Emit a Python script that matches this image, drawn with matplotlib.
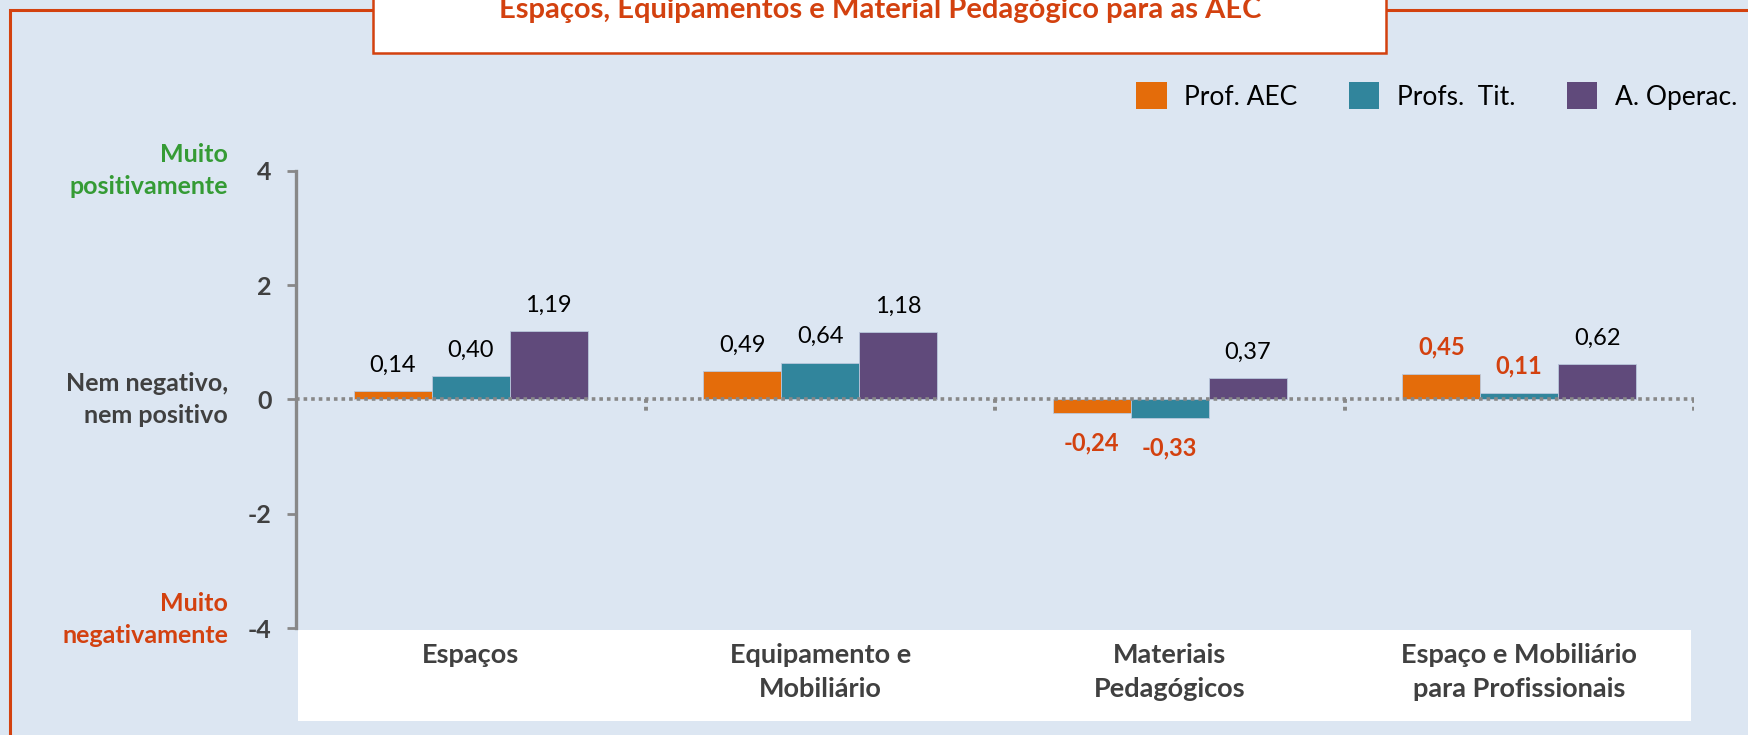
import numpy as np
import matplotlib.pyplot as plt
from matplotlib.patches import Rectangle, Patch

plt.rcParams['font.family'] = ['Lato', 'DejaVu Sans']

# dados
categorias = ["Espaços", "Equipamento e\nMobiliário", "Materiais\nPedagógicos",
              "Espaço e Mobiliário\npara Profissionais"]
series = ["Prof. AEC", "Profs.  Tit.", "A. Operac."]
prof_aec = [0.14, 0.49, -0.24, 0.45]
profs_tit = [0.40, 0.64, -0.33, 0.11]
a_operac = [1.19, 1.18, 0.37, 0.62]
# rótulos destacados a vermelho
destaque_aec = [False, False, True, True]
destaque_tit = [False, False, True, True]
destaque_op = [False, False, False, False]
yticks = [-4, -2, 0, 2, 4]
escala = [(4, "Muito\npositivamente"), (0, "Nem negativo,\nnem positivo"),
          (-3.85, "Muito\nnegativamente")]

titulo = "Espaços, Equipamentos e Material Pedagógico para as AEC"

cores = ['#E46C0A', '#31859C', '#604A7B']
fundo = '#DCE6F2'
vermelho = '#D3410F'
verde = '#359B35'
cinza_txt = '#404040'
cinza_eixo = '#888888'

W, H = 1748, 735
fig = plt.figure(figsize=(W / 100, H / 100), dpi=100)
fig.patch.set_facecolor(fundo)

ax = fig.add_axes([296 / W, 1 - 628 / H, (1694 - 296) / W, (628 - 170.7) / H])
ax.set_facecolor(fundo)

x = np.arange(len(categorias)) + 0.5
largura = 0.223
valores = [prof_aec, profs_tit, a_operac]
destaques = [destaque_aec, destaque_tit, destaque_op]

for i, (vals, cor, dest) in enumerate(zip(valores, cores, destaques)):
    pos = x + (i - 1) * largura
    ax.bar(pos, vals, width=largura, color=cor, edgecolor='#b9c8dc',
           linewidth=0.6, zorder=3)
    for xp, v, d in zip(pos, vals, dest):
        txt = f"{v:.2f}".replace('.', ',')
        off = 14 if v >= 0 else -27
        ax.annotate(txt, (xp, v), xytext=(0, off), textcoords='offset points',
                    ha='center', va='baseline', fontsize=17,
                    color=vermelho if d else 'black',
                    fontweight='bold' if d else 'normal')

ax.set_xlim(0, len(categorias))
ax.set_ylim(-4, 4)

# linha do zero pontilhada e marcas entre categorias
ax.axhline(0, color=cinza_eixo, lw=2.6, linestyle=(0, (1, 1.1)), zorder=4)
ax.vlines(np.arange(1, len(categorias) + 1), 0, -0.22, color=cinza_eixo,
          lw=2.8, linestyle=(0, (1, 1.0)), zorder=4)

for s in ['top', 'right', 'bottom']:
    ax.spines[s].set_visible(False)
ax.spines['left'].set_color(cinza_eixo)
ax.spines['left'].set_linewidth(2.4)

ax.set_yticks(yticks)
ax.set_yticklabels([str(t) for t in yticks], fontweight='bold', color=cinza_txt,
                   fontsize=18)
ax.tick_params(axis='y', direction='out', length=6.5, width=2, color=cinza_eixo,
               pad=11)

ax.set_xticks(x)
ax.set_xticklabels(categorias, fontweight='bold', color=cinza_txt, fontsize=19.5,
                   linespacing=1.5, va='top')
ax.tick_params(axis='x', length=0, pad=11)

# caixa branca dos rótulos das categorias
ax.add_patch(Rectangle((0.0015, -0.2034), 0.9964, 0.199, transform=ax.transAxes,
                       facecolor='white', edgecolor='none', clip_on=False,
                       zorder=0))

# rótulos da escala à esquerda
for yv, txt in escala:
    cor = verde if yv > 0 else (vermelho if yv < 0 else cinza_txt)
    ax.text(-0.0486, yv, txt, transform=ax.get_yaxis_transform(), ha='right',
            va='center', fontsize=18, fontweight='bold', color=cor,
            linespacing=1.45)

# legenda
handles = [Patch(facecolor=c, edgecolor='none') for c in cores]
fig.legend(handles, series, loc='center right',
           bbox_to_anchor=(1737 / W, 1 - 96 / H), ncol=3, frameon=False,
           fontsize=19, handlelength=1.17, handleheight=1.17, handletextpad=0.65,
           columnspacing=1.95, borderpad=0, borderaxespad=0)

# moldura exterior e caixa do título
fig.add_artist(Rectangle((10 / W, -0.1), 1.2, 1 - 10 / H + 0.1,
                         transform=fig.transFigure, facecolor='none',
                         edgecolor=vermelho, lw=2.2))
fig.add_artist(Rectangle((373 / W, 1 - 53 / H), (1386 - 373) / W, 0.2,
                         transform=fig.transFigure, facecolor='white',
                         edgecolor=vermelho, lw=1.8))
fig.text(880 / W, 1 - 18 / H, titulo, ha='center', va='baseline', fontsize=21,
         fontweight='bold', color=vermelho)

fig.savefig('out.png', dpi=100, facecolor=fundo)
